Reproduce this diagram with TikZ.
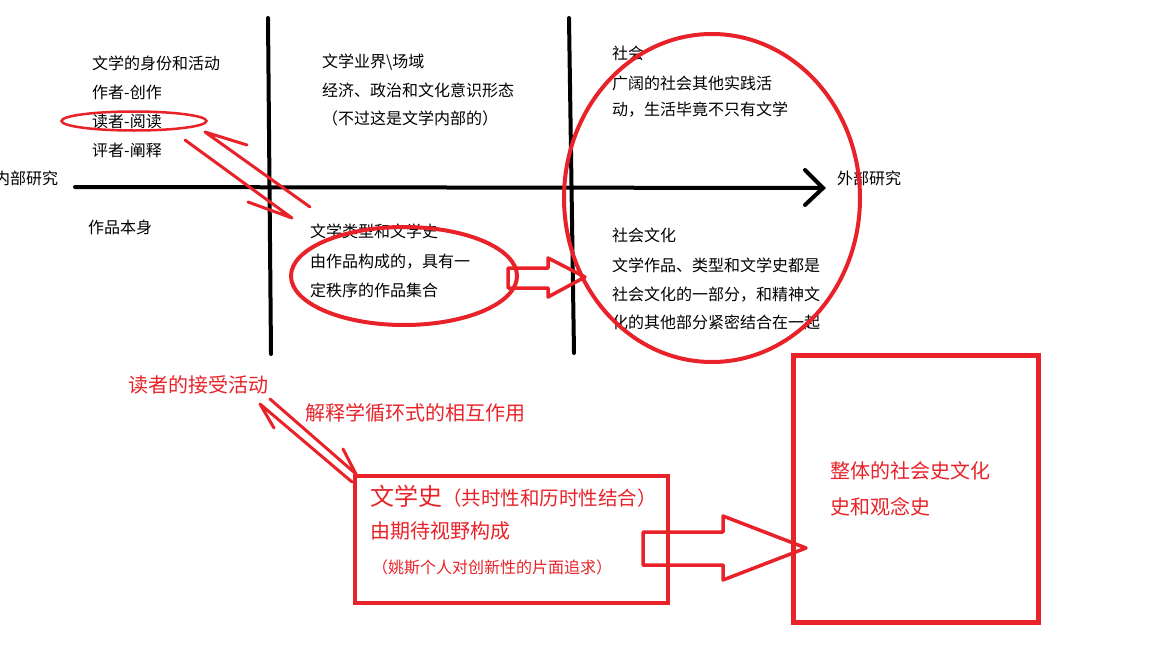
\documentclass[tikz,border=0pt]{standalone}
\usepackage{fontspec}
\setmainfont{Noto Sans CJK SC}
\usetikzlibrary{shapes.geometric}
\definecolor{pred}{RGB}{232,34,40}
\tikzset{
  txt/.style={anchor=west,inner sep=0pt,font=\fontsize{16}{16}\selectfont},
  rtxt/.style={txt,text=pred,font=\fontsize{20}{20}\selectfont},
  axis/.style={line width=4pt,line cap=round},
  rline/.style={draw=pred,line width=3pt,line cap=round,line join=round},
  rell/.style={ellipse,draw=pred,inner sep=0pt},
  rbox/.style={rectangle,draw=pred,line width=4.5pt,inner sep=0pt},
}
\begin{document}
\begin{tikzpicture}[x=1pt,y=-1pt]
\useasboundingbox (0,0) rectangle (1152,648);
\coordinate (axw) at (75,187);
\coordinate (axe) at (823,188);
\coordinate (v1n) at (268,18);
\coordinate (v1s) at (271,354);
\coordinate (v2n) at (569,18);
\coordinate (v2s) at (574,353);
\path[draw,axis] (axw)--(axe);
\path[draw,axis] (axe) +(-18,-18)--(axe)--+(-18,17);
\path[draw,axis] (v1n)--(v1s);
\path[draw,axis] (v2n)--(v2s);
\node[txt] (inner) at (-6,178) {内部研究};
\node[txt] (outer) at (837,178) {外部研究};
\node[txt] (ident) at (92,63) {文学的身份和活动};
\node[txt] (author) at (92,92) {作者-创作};
\node[txt] (reader) at (92,121) {读者-阅读};
\node[txt] (critic) at (92,150) {评者-阐释};
\node[txt] (work) at (88,227) {作品本身};
\node[txt] (field) at (322,62) {文学业界\textbackslash 场域};
\node[txt] (econ) at (322,90) {经济、政治和文化意识形态};
\node[txt] (note) at (322,118) {（不过这是文学内部的）};
\node[txt] (genre) at (310,231) {文学类型和文学史};
\node[txt] (genre2) at (310,262) {由作品构成的，具有一};
\node[txt] (genre3) at (310,290) {定秩序的作品集合};
\node[txt] (soc) at (612,53) {社会};
\node[txt] (soc2) at (612,83) {广阔的社会其他实践活};
\node[txt] (soc3) at (612,110) {动，生活毕竟不只有文学};
\node[txt] (cult) at (612,235) {社会文化};
\node[txt] (cult2) at (612,265) {文学作品、类型和文学史都是};
\node[txt] (cult3) at (612,295) {社会文化的一部分，和精神文};
\node[txt] (cult4) at (612,322) {化的其他部分紧密结合在一起};
\node[rell,line width=2.5pt,minimum width=145,minimum height=19] (rdell) at (134,121) {};
\node[rell,line width=4pt,minimum width=226,minimum height=98] (genell) at (404,276) {};
\node[rell,line width=4pt,minimum width=296,minimum height=328] (socell) at (712,198) {};
\coordinate (tA) at (310,207);
\coordinate (hA) at (205,132);
\coordinate (tB) at (185,140);
\coordinate (hB) at (292,218);
\path[rline] (tA)--(hA)--+(42,13);
\path[rline] (tB)--(hB)--+(-44,-16);
\path[rline,line width=3.5pt] (508,268)--(548,268)--(548,258)--(585,277)--(548,297)--(548,288)--(508,288)--cycle;
\node[rtxt] (recep) at (128,385) {读者的接受活动};
\node[rtxt] (herm) at (305,413) {解释学循环式的相互作用};
\node[rbox,minimum width=313,minimum height=127] (hist) at (511.5,539.5) {};
\node[rbox,line width=5pt,minimum width=245,minimum height=267] (whole) at (915.5,488.5) {};
\node[txt,text=pred] (histt) at (370,496) {{\fontsize{24}{24}\selectfont 文学史}{\fontsize{19.5}{20}\selectfont （共时性和历时性结合）}};
\node[rtxt] (horiz) at (370,531) {由期待视野构成};
\node[txt,text=pred] (jauss) at (372,567) {（姚斯个人对创新性的片面追求）};
\node[rtxt] (whole1) at (830,471) {整体的社会史文化};
\node[rtxt] (whole2) at (830,507) {史和观念史};
\coordinate (tC) at (352,482);
\coordinate (hC) at (260,404);
\coordinate (tD) at (270,399);
\coordinate (hD) at (356,474);
\path[rline] (tC)--(hC)--+(14,24);
\path[rline] (tD)--(hD)--+(-13,-25);
\path[rline,line width=3.5pt] (643,532)--(723,532)--(723,516)--(806,548)--(723,580)--(723,565)--(643,565)--cycle;
\end{tikzpicture}
\end{document}
